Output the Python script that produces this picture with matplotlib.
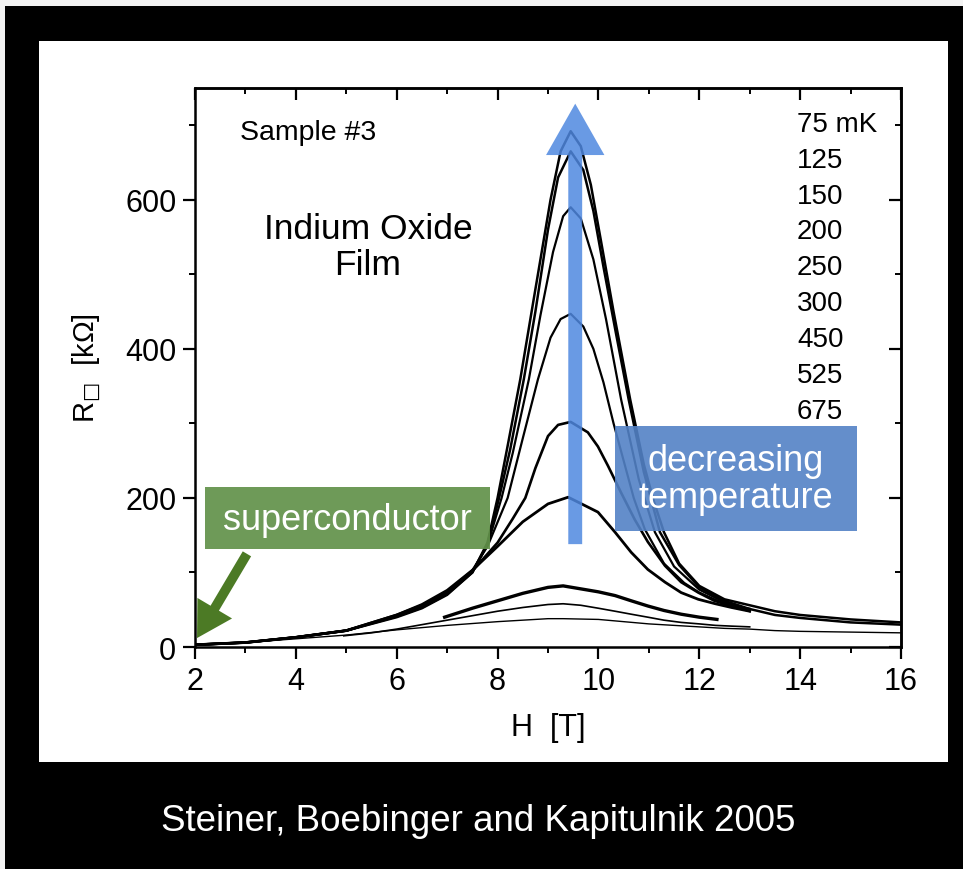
import matplotlib
matplotlib.use("Agg")
import matplotlib.pyplot as plt
from matplotlib.patches import Rectangle, FancyArrowPatch
from matplotlib.ticker import MultipleLocator

plt.rcParams['font.family'] = ['Liberation Sans', 'DejaVu Sans']

#### datos (H en T, R en kOhm)
temps = ["75 mK", "125", "150", "200", "250", "300", "450", "525", "675"]

H75 = [2, 3, 4, 5, 6, 6.5, 7, 7.5, 7.8, 8.0, 8.2, 8.45, 8.7, 8.9, 9.05, 9.25, 9.45, 9.65, 9.85,
       10.05, 10.3, 10.63, 10.9, 11.1, 11.3, 11.6, 12.0, 12.5, 13.0, 13.5, 14, 15, 16]
R75 = [3, 6, 13, 22, 40, 52, 70, 100, 140, 200, 270, 359, 460, 540, 600, 665, 692, 672, 620,
       545, 450, 332, 245, 195, 154, 112, 82, 64, 56, 48, 43, 37, 33]

H125 = [2, 3, 4, 5, 6, 6.5, 7, 7.5, 7.8, 8.03, 8.25, 8.52, 8.75, 9.0, 9.2, 9.45, 9.7, 9.9,
        10.1, 10.35, 10.6, 10.9, 11.22, 11.6, 12.0, 12.5, 13.0, 13.5, 14, 15, 16]
R125 = [3, 6, 13, 22, 41, 53, 71, 100, 138, 200, 265, 359, 450, 560, 630, 665, 640, 585,
        510, 420, 332, 235, 154, 110, 80, 62, 51, 43, 39, 33, 30]

H150 = [2, 3, 4, 5, 6, 6.5, 7, 7.5, 7.8, 8.08, 8.3, 8.62, 8.85, 9.1, 9.3, 9.45, 9.65, 9.9,
        10.15, 10.45, 10.8, 11.12, 11.5, 12.0, 12.5, 13.0]
R150 = [3, 6, 13, 22, 42, 54, 72, 101, 137, 200, 260, 359, 445, 530, 578, 590, 575, 520,
        440, 332, 225, 154, 108, 77, 60, 50]

H200 = [2, 3, 4, 5, 6, 6.5, 7, 7.5, 7.8, 8.2, 8.5, 8.8, 9.05, 9.25, 9.45, 9.7, 9.9, 10.1,
        10.3, 10.5, 10.7, 10.92, 11.3, 11.7, 12.0, 12.5, 13.0]
R200 = [3, 6, 13, 22, 42, 55, 74, 103, 135, 200, 280, 359, 415, 440, 447, 430, 400, 355,
        300, 250, 200, 158, 112, 86, 73, 58, 48]

H250 = [2, 3, 4, 5, 6, 6.5, 7, 7.5, 8.0, 8.3, 8.55, 8.75, 9.0, 9.2, 9.45, 9.79, 9.99, 10.19,
        10.45, 10.72, 10.98, 11.32, 11.64, 11.98, 12.3, 12.64, 13.0]
R250 = [3, 6, 13, 22, 43, 56, 74, 102, 140, 172, 200, 240, 283, 298, 302, 288, 269, 243,
        207, 171, 141, 109, 87, 73, 62, 55, 51]

H300 = [2, 3, 4, 5, 6, 6.5, 7, 7.5, 8.0, 8.5, 9.0, 9.4, 9.99, 10.33, 10.65, 10.98, 11.32,
        11.64, 11.98, 12.32, 12.64, 13.0]
R300 = [3, 6, 13, 22, 43, 57, 76, 103, 135, 168, 192, 201, 181, 154, 127, 104, 87,
        73, 64, 58, 53, 48]

H450 = [6.95, 7.5, 8.0, 8.5, 9.0, 9.3, 9.65, 10.0, 10.33, 10.65, 10.98, 11.3, 11.64, 12.0, 12.35]
R450 = [40, 52, 62, 72, 80, 82, 78, 74, 69, 62, 55, 49, 44, 40, 37]

H525 = [4.95, 5.5, 6, 6.5, 7, 7.5, 8, 8.5, 9.0, 9.3, 9.65, 10.0, 10.33, 10.65, 10.98, 11.3,
        11.64, 12.0, 12.32, 12.64, 13.0]
R525 = [15, 19, 24, 30, 36, 42, 48, 53, 57, 58, 56, 52, 48, 44, 40, 36, 33, 31, 29, 28, 27]

H675 = [2, 3, 4, 5, 6, 7, 8, 9, 9.3, 10, 10.5, 11, 11.5, 12, 12.5, 13, 13.5, 14, 15, 16]
R675 = [3, 6, 11, 16, 23, 29, 34, 38, 38, 37, 34, 31, 29, 27, 25, 24, 22, 21, 20, 19]

curvas = [(H75, R75, 1.8), (H125, R125, 1.8), (H150, R150, 1.6), (H200, R200, 1.6),
          (H250, R250, 1.9), (H300, R300, 2.0), (H450, R450, 2.4), (H525, R525, 1.2),
          (H675, R675, 1.0)]

#### figura
fig = plt.figure(figsize=(9.63, 8.70), dpi=100)
fig.patch.set_facecolor('#f3f3f3')

W, Hpx = 963., 870.
def figrect(x0, y0, x1, y1, **kw):
    # rectangulo en pixeles (origen arriba a la izquierda)
    r = Rectangle((x0 / W, 1 - y1 / Hpx), (x1 - x0) / W, (y1 - y0) / Hpx,
                  transform=fig.transFigure, **kw)
    fig.patches.append(r)
    return r

figrect(5, 7, 963, 870, facecolor='black', edgecolor='none', zorder=-2)
figrect(39, 42, 948, 763, facecolor='white', edgecolor='none', zorder=-1)

ax = fig.add_axes([195 / W, 1 - 648 / Hpx, 706 / W, 559 / Hpx])
ax.set_facecolor('none')

for H, R, lw in curvas:
    ax.plot(H, R, color='black', lw=lw, solid_joinstyle='round')

ax.set_xlim(2, 16)
ax.set_ylim(0, 750)
ax.xaxis.set_major_locator(MultipleLocator(2))
ax.xaxis.set_minor_locator(MultipleLocator(1))
ax.yaxis.set_major_locator(MultipleLocator(200))
ax.yaxis.set_minor_locator(MultipleLocator(100))
ax.tick_params(which='major', direction='out', length=8.5, width=1.6, labelsize=22, pad=5)
ax.tick_params(which='minor', direction='out', length=4.5, width=1.4)
for s in ax.spines.values():
    s.set_linewidth(1.8)

sx = ax.secondary_xaxis('top')
sx.xaxis.set_major_locator(MultipleLocator(2))
sx.xaxis.set_minor_locator(MultipleLocator(1))
sx.tick_params(which='major', direction='in', length=8.5, width=1.6, labeltop=False)
sx.tick_params(which='minor', direction='in', length=4.5, width=1.4)
sy = ax.secondary_yaxis('right')
sy.yaxis.set_major_locator(MultipleLocator(200))
sy.yaxis.set_minor_locator(MultipleLocator(100))
sy.tick_params(which='major', direction='in', length=8.5, width=1.6, labelright=False)
sy.tick_params(which='minor', direction='in', length=4.5, width=1.4)
sx.spines['top'].set_linewidth(1.8)
sy.spines['right'].set_linewidth(1.8)

ax.set_xlabel("H  [T]", fontsize=22, labelpad=12)
ax.set_ylabel("R$_{□}$  [kΩ]", fontsize=21, labelpad=16)

#### textos
ax.text(0.064, 0.921, "Sample #3", transform=ax.transAxes, fontsize=20.5, va='center')
ax.text(0.245, 0.716, "Indium Oxide\nFilm", transform=ax.transAxes, fontsize=25.5,
        ha='center', va='center', linespacing=1.1)
for i, t in enumerate(temps):
    ax.text(0.8527, 0.9356 - i * 0.0641, t, transform=ax.transAxes, fontsize=20, va='center')

#### flecha azul
fl = FancyArrowPatch((9.54, 138), (9.54, 729), mutation_scale=1,
                     arrowstyle='simple,head_length=37,head_width=42,tail_width=10',
                     color='#4f88e0', alpha=0.85, lw=0, shrinkA=0, shrinkB=0, zorder=5)
ax.add_patch(fl)

#### cajas
figrect(615, 427, 857, 532, facecolor='#5382c6', edgecolor='none', alpha=0.9, zorder=6)
fig.text(736 / W, 1 - 480 / Hpx, "decreasing\ntemperature", color='white', fontsize=26,
         ha='center', va='center', linespacing=1.05, zorder=7)

figrect(205, 488, 490, 550, facecolor='#62924a', edgecolor='none', alpha=0.92, zorder=6)
fig.text(347 / W, 1 - 520 / Hpx, "superconductor", color='white', fontsize=26,
         ha='center', va='center', zorder=7)

fv = FancyArrowPatch((3.03, 125), (2.04, 12), mutation_scale=1,
                     arrowstyle='simple,head_length=25,head_width=29,tail_width=7',
                     color='#4c7a25', lw=0, shrinkA=0, shrinkB=0, zorder=6, clip_on=False)
ax.add_patch(fv)

fig.text(478 / W, 1 - 822 / Hpx, "Steiner, Boebinger and Kapitulnik 2005", color='white',
         fontsize=26.5, ha='center', va='center')

plt.savefig("out.png", dpi=100, facecolor=fig.get_facecolor())
